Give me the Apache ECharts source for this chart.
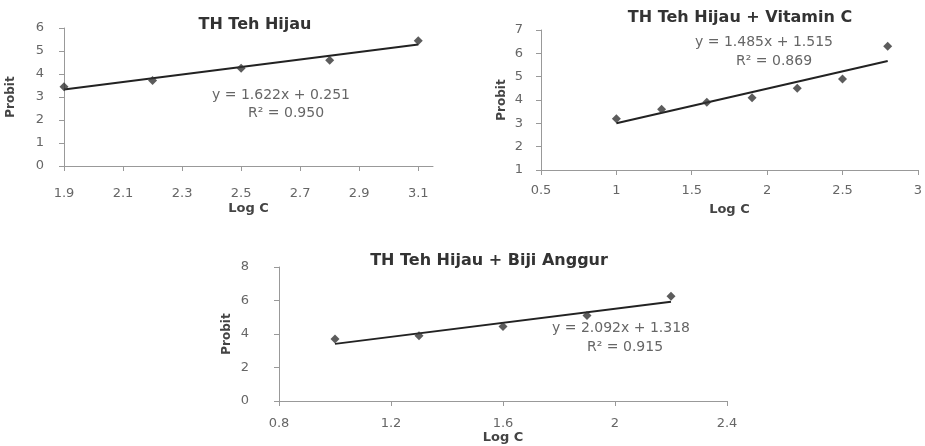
<!DOCTYPE html>
<html>
<head>
<meta charset="utf-8">
<script src="https://cdn.jsdelivr.net/npm/echarts@6/dist/echarts.min.js"></script>
<style>
html, body { margin: 0; padding: 0; background: #fff; }
#main { width: 925px; height: 446px; }
</style>
</head>
<body>
<div id="main"></div>
<script>
// data
var titles = ['TH Teh Hijau', 'TH Teh Hijau + Vitamin C', 'TH Teh Hijau + Biji Anggur'];
var equations = ['y = 1.622x + 0.251', 'y = 1.485x + 1.515', 'y = 2.092x + 1.318'];
var rSquared = ['R\u00b2 = 0.950', 'R\u00b2 = 0.869', 'R\u00b2 = 0.915'];

var points1 = [[1.9, 3.45], [2.2, 3.72], [2.5, 4.25], [2.8, 4.6], [3.1, 5.45]];
var trend1 = [[1.9, 3.33], [3.1, 5.28]];
var xTicks1 = [1.9, 2.1, 2.3, 2.5, 2.7, 2.9, 3.1];

var points2 = [[1.0, 3.2], [1.3, 3.6], [1.6, 3.9], [1.9, 4.1], [2.2, 4.5], [2.5, 4.9], [2.8, 6.3]];
var trend2 = [[1.0, 3.0], [2.8, 5.67]];

var points3 = [[1.0, 3.7], [1.3, 3.9], [1.6, 4.45], [1.9, 5.1], [2.2, 6.25]];
var trend3 = [[1.0, 3.41], [2.2, 5.92]];

var font = 'DejaVu Sans';
var labelColor = '#666';
var axisColor = '#999';

var myChart = echarts.init(document.getElementById('main'));

function xAxisOf(idx, min, max, interval, margin, gap, ticks) {
	var ax = {
		gridIndex : idx,
		type : 'value',
		min : min,
		max : max,
		interval : interval,
		name : 'Log C',
		nameLocation : 'middle',
		nameGap : gap,
		nameTextStyle : { fontFamily : font, fontSize : 13, fontWeight : 'bold', color : '#444' },
		axisLine : { onZero : false, lineStyle : { color : axisColor } },
		axisTick : { show : true, length : 5, lineStyle : { color : axisColor } },
		axisLabel : { fontFamily : font, fontSize : 13, color : labelColor, margin : margin },
		splitLine : { show : false }
	};
	if (ticks) {
		ax.axisLabel.customValues = ticks;
		ax.axisTick.customValues = ticks;
	}
	return ax;
}

function yAxisOf(idx, min, max, interval, margin, gap) {
	return {
		gridIndex : idx,
		type : 'value',
		min : min,
		max : max,
		interval : interval,
		name : 'Probit',
		nameLocation : 'middle',
		nameGap : gap,
		nameTextStyle : { fontFamily : font, fontSize : 12, fontWeight : 'bold', color : '#444' },
		axisLine : { show : true, lineStyle : { color : axisColor } },
		axisTick : { show : true, length : 5, lineStyle : { color : axisColor } },
		axisLabel : { fontFamily : font, fontSize : 13, color : labelColor, margin : margin },
		splitLine : { show : false }
	};
}

function scatterOf(idx, data) {
	return {
		type : 'scatter',
		xAxisIndex : idx,
		yAxisIndex : idx,
		symbol : 'diamond',
		symbolSize : 9,
		itemStyle : { color : '#333' },
		data : data,
		z : 3
	};
}

function trendOf(idx, data) {
	return {
		type : 'line',
		xAxisIndex : idx,
		yAxisIndex : idx,
		symbol : 'none',
		lineStyle : { color : '#222', width : 2 },
		data : data,
		z : 2
	};
}

var titleStyle = { fontFamily : font, fontSize : 16, fontWeight : 'bold', color : '#333' };
var eqStyle = { fontFamily : font, fontSize : 14, fill : '#666' };

var option = {
	backgroundColor : '#FFFFFF',
	animation : false,
	title : [
		{ text : titles[0], left : 250, top : 12, textAlign : 'center', textStyle : titleStyle },
		{ text : titles[1], left : 735, top : 5, textAlign : 'center', textStyle : titleStyle },
		{ text : titles[2], left : 484, top : 248, textAlign : 'center', textStyle : titleStyle }
	],
	grid : [
		{ left : 64, top : 28, width : 369, height : 138 },
		{ left : 541, top : 30, width : 381, height : 140 },
		{ left : 279, top : 267, width : 448, height : 134 }
	],
	xAxis : [
		xAxisOf(0, 1.9, 3.15, 0.2, 21, 36, xTicks1),
		xAxisOf(1, 0.5, 3, 0.5, 14, 33),
		xAxisOf(2, 0.8, 2.4, 0.4, 16, 30)
	],
	yAxis : [
		yAxisOf(0, 0, 6, 1, 20, 47),
		yAxisOf(1, 1, 7, 1, 18, 33),
		yAxisOf(2, 0, 8, 2, 30, 46)
	],
	series : [
		trendOf(0, trend1), scatterOf(0, points1),
		trendOf(1, trend2), scatterOf(1, points2),
		trendOf(2, trend3), scatterOf(2, points3)
	],
	graphic : [
		{ type : 'text', left : 212, top : 88, style : Object.assign({ text : equations[0] }, eqStyle) },
		{ type : 'text', left : 248, top : 106, style : Object.assign({ text : rSquared[0] }, eqStyle) },
		{ type : 'text', left : 695, top : 35, style : Object.assign({ text : equations[1] }, eqStyle) },
		{ type : 'text', left : 736, top : 54, style : Object.assign({ text : rSquared[1] }, eqStyle) },
		{ type : 'text', left : 552, top : 321, style : Object.assign({ text : equations[2] }, eqStyle) },
		{ type : 'text', left : 587, top : 340, style : Object.assign({ text : rSquared[2] }, eqStyle) }
	]
};

myChart.setOption(option);
</script>
</body>
</html>
